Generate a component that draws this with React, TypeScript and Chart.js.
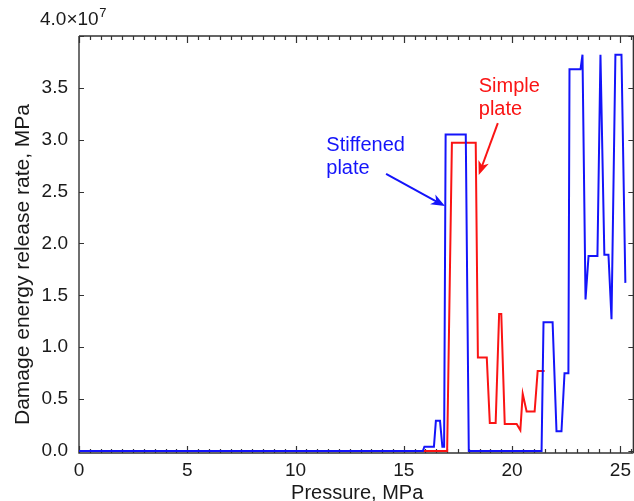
import { useEffect, useRef } from 'react';
import { Chart, registerables } from 'chart.js';

Chart.register(...registerables);

// ---- data (pressure in MPa, rate in units of 1e7 MPa) ----
const stiffX = [0, 15.88, 15.95, 16.39, 16.48, 16.67, 16.78, 16.86, 16.93, 17.86, 18.0, 21.36, 21.45, 21.87, 22.05, 22.28, 22.42, 22.6, 22.65, 23.16, 23.25, 23.39, 23.53, 23.94, 24.08, 24.26, 24.45, 24.59, 24.77, 25.05, 25.23];
const stiffY = [0, 0, 0.04, 0.04, 0.29, 0.29, 0.04, 0.04, 3.05, 3.05, 0, 0, 1.24, 1.24, 0.19, 0.19, 0.75, 0.75, 3.68, 3.68, 3.82, 1.46, 1.88, 1.88, 3.82, 1.89, 1.89, 1.27, 3.82, 3.82, 1.62];

const simpleX = [0, 15.88, 17.0, 17.22, 18.32, 18.42, 18.83, 18.97, 19.24, 19.4, 19.5, 19.66, 20.21, 20.38, 20.49, 20.67, 21.04, 21.18, 21.5];
const simpleY = [0, 0, 0, 2.97, 2.97, 0.9, 0.9, 0.27, 0.27, 1.32, 1.32, 0.26, 0.26, 0.2, 0.55, 0.38, 0.38, 0.77, 0.77];

const xTickLabels = [0, 5, 10, 15, 20, 25];
const yTickLabels = [0, 0.5, 1.0, 1.5, 2.0, 2.5, 3.0, 3.5, 4.0];
const SCALE = 1e7;

const xTitle = 'Pressure, MPa';
const yTitle = 'Damage energy release rate, MPa';

// annotations (data coordinates)
const stiffLabel = { x: 11.42, lines: ['Stiffened', 'plate'], y: [2.89, 2.67] };
const stiffArrow = { x1: 14.18, y1: 2.67, x2: 16.9, y2: 2.36 };
const simpleLabel = { x: 18.46, lines: ['Simple', 'plate'], y: [3.46, 3.24] };
const simpleArrow = { x1: 19.34, y1: 3.16, x2: 18.46, y2: 2.66 };

const BLUE = 'rgb(20,20,250)';
const RED = 'rgb(250,20,20)';
const AXIS = '#333333';
const TEXT = '#1a1a1a';
const FONT = '"Liberation Sans", Arial, Helvetica, sans-serif';

function drawArrow(ctx: CanvasRenderingContext2D, x1: number, y1: number, x2: number, y2: number, color: string) {
  const ang = Math.atan2(y2 - y1, x2 - x1);
  const len = 14;
  const hw = 5.5;
  const bx = x2 - len * Math.cos(ang);
  const by = y2 - len * Math.sin(ang);
  ctx.save();
  ctx.strokeStyle = color;
  ctx.fillStyle = color;
  ctx.lineWidth = 2;
  ctx.beginPath();
  ctx.moveTo(x1, y1);
  ctx.lineTo(x2 - 8 * Math.cos(ang), y2 - 8 * Math.sin(ang));
  ctx.stroke();
  const nx = -Math.sin(ang);
  const ny = Math.cos(ang);
  const nxp = x2 - (len - 4) * Math.cos(ang);
  const nyp = y2 - (len - 4) * Math.sin(ang);
  ctx.beginPath();
  ctx.moveTo(x2, y2);
  ctx.lineTo(bx + nx * hw, by + ny * hw);
  ctx.lineTo(nxp, nyp);
  ctx.lineTo(bx - nx * hw, by - ny * hw);
  ctx.closePath();
  ctx.fill();
  ctx.restore();
}

const framePlugin = {
  id: 'frame',
  beforeDatasetsDraw(chart: any) {
    const { ctx, chartArea: a, scales } = chart;
    const xs = scales.x;
    const ys = scales.y;
    ctx.save();
    ctx.strokeStyle = AXIS;
    ctx.lineWidth = 1.4;
    ctx.beginPath();
    ctx.moveTo(a.left, a.top);
    ctx.lineTo(a.left, a.bottom);
    ctx.lineTo(a.right, a.bottom);
    ctx.moveTo(a.left, a.top);
    ctx.lineTo(a.right, a.top);
    ctx.lineTo(a.right, a.bottom);
    ctx.stroke();
    // x ticks (inward), top and bottom
    ctx.lineWidth = 1.2;
    ctx.beginPath();
    for (let i = 0; i <= 51; i++) {
      const v = i * 0.5;
      const px = Math.round(xs.getPixelForValue(v)) + 0.5;
      const L = i % 10 === 0 ? 7 : 4;
      ctx.moveTo(px, a.bottom);
      ctx.lineTo(px, a.bottom - L);
      ctx.moveTo(px, a.top);
      ctx.lineTo(px, a.top + L);
    }
    // y ticks (inward), left and right
    for (const v of yTickLabels) {
      const py = Math.round(ys.getPixelForValue(v * SCALE)) + 0.5;
      ctx.moveTo(a.left, py);
      ctx.lineTo(a.left + 5, py);
      ctx.moveTo(a.right, py);
      ctx.lineTo(a.right - 5, py);
    }
    ctx.stroke();
    ctx.restore();
  },
  afterDraw(chart: any) {
    const { ctx, chartArea: a, scales } = chart;
    const xs = scales.x;
    const ys = scales.y;
    ctx.save();
    ctx.fillStyle = TEXT;
    // exponent label at top of y axis
    ctx.font = `19px ${FONT}`;
    ctx.textAlign = 'left';
    ctx.textBaseline = 'alphabetic';
    const base = '4.0\u00d710';
    const ex = a.left - 39;
    const ey = a.top - 11;
    ctx.fillText(base, ex, ey);
    const w = ctx.measureText(base).width;
    ctx.font = `13px ${FONT}`;
    ctx.fillText('7', ex + w + 0.5, ey - 8);
    // axis titles
    ctx.font = `20px ${FONT}`;
    ctx.textAlign = 'center';
    ctx.fillText(xTitle, (a.left + a.right) / 2 + 1, a.bottom + 46);
    ctx.save();
    ctx.font = `21px ${FONT}`;
    ctx.translate(a.left - 50, (a.top + a.bottom) / 2 + 20);
    ctx.rotate(-Math.PI / 2);
    ctx.fillText(yTitle, 0, 0);
    ctx.restore();
    // annotations
    ctx.font = `20px ${FONT}`;
    ctx.textAlign = 'left';
    ctx.fillStyle = BLUE;
    stiffLabel.lines.forEach((t, i) => {
      ctx.fillText(t, xs.getPixelForValue(stiffLabel.x), ys.getPixelForValue(stiffLabel.y[i] * SCALE));
    });
    ctx.fillStyle = RED;
    simpleLabel.lines.forEach((t, i) => {
      ctx.fillText(t, xs.getPixelForValue(simpleLabel.x), ys.getPixelForValue(simpleLabel.y[i] * SCALE));
    });
    ctx.restore();
    drawArrow(ctx, xs.getPixelForValue(stiffArrow.x1), ys.getPixelForValue(stiffArrow.y1 * SCALE), xs.getPixelForValue(stiffArrow.x2), ys.getPixelForValue(stiffArrow.y2 * SCALE), BLUE);
    drawArrow(ctx, xs.getPixelForValue(simpleArrow.x1), ys.getPixelForValue(simpleArrow.y1 * SCALE), xs.getPixelForValue(simpleArrow.x2), ys.getPixelForValue(simpleArrow.y2 * SCALE), RED);
  },
};

export default function App() {
  const ref = useRef<HTMLCanvasElement>(null);
  useEffect(() => {
    const chart = new Chart(ref.current as HTMLCanvasElement, {
      type: 'scatter',
      data: {
        datasets: [
          {
            label: 'Stiffened plate',
            data: stiffX.map((x, i) => ({ x, y: stiffY[i] * SCALE })),
            showLine: true,
            borderColor: BLUE,
            backgroundColor: BLUE,
            borderWidth: 2,
            pointRadius: 0,
            tension: 0,
            fill: false,
          },
          {
            label: 'Simple plate',
            data: simpleX.map((x, i) => ({ x, y: simpleY[i] * SCALE })),
            showLine: true,
            borderColor: RED,
            backgroundColor: RED,
            borderWidth: 2,
            pointRadius: 0,
            tension: 0,
            fill: false,
          },
        ],
      },
      options: {
        animation: false,
        responsive: false,
        layout: { padding: { top: 36, right: 2, left: 0, bottom: 0 } },
        plugins: { legend: { display: false }, tooltip: { enabled: false }, title: { display: false } },
        scales: {
          x: {
            type: 'linear',
            min: 0,
            max: 25.6,
            afterBuildTicks: (s: any) => {
              s.ticks = xTickLabels.map((v) => ({ value: v }));
            },
            afterFit: (s: any) => {
              s.height = 48;
            },
            grid: { display: false, drawTicks: false },
            border: { display: false },
            ticks: {
              font: { family: FONT, size: 19 },
              color: TEXT,
              padding: 6,
              maxRotation: 0,
              autoSkip: false,
              callback: (v: any) => String(v),
            },
          },
          y: {
            type: 'linear',
            min: -0.02 * SCALE,
            max: 4 * SCALE,
            afterBuildTicks: (s: any) => {
              s.ticks = yTickLabels.map((v) => ({ value: v * SCALE }));
            },
            afterFit: (s: any) => {
              s.width = 79;
            },
            grid: { display: false, drawTicks: false },
            border: { display: false },
            ticks: {
              font: { family: FONT, size: 19 },
              color: TEXT,
              padding: 11,
              autoSkip: false,
              callback: (v: any) => (v >= 3.99 * SCALE ? '' : (v / SCALE).toFixed(1)),
            },
          },
        },
      },
      plugins: [framePlugin],
    });
    return () => chart.destroy();
  }, []);
  return (
    <div style={{ position: 'fixed', left: 0, top: 0, width: 634, height: 501, overflow: 'hidden', background: '#fff' }}>
      <canvas ref={ref} width={637} height={501} style={{ display: 'block', width: 637, height: 501 }} />
    </div>
  );
}
